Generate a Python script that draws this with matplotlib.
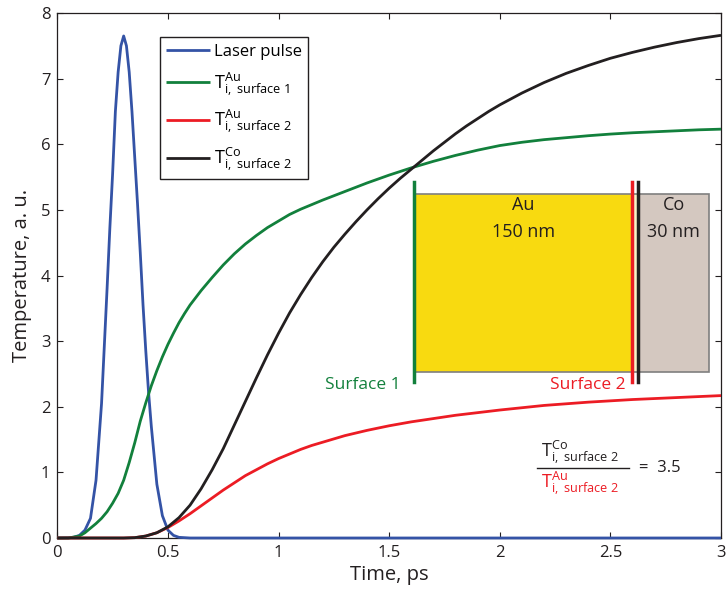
import matplotlib
matplotlib.use("Agg")
import matplotlib.pyplot as plt
from matplotlib.patches import Rectangle

FONT = "Open Sans"
plt.rcParams["font.family"] = [FONT, "DejaVu Sans"]
plt.rcParams["mathtext.fontset"] = "custom"
plt.rcParams["mathtext.rm"] = FONT
plt.rcParams["mathtext.it"] = FONT + ":italic"
plt.rcParams["mathtext.bf"] = FONT + ":bold"

# ---- data -----------------------------------------------------------------
t_pulse = [0, 0.05, 0.075, 0.1, 0.125, 0.15, 0.175, 0.2, 0.225, 0.2375, 0.25,
           0.2625, 0.275, 0.2875, 0.3, 0.3125, 0.325, 0.3375, 0.35, 0.3625,
           0.375, 0.3875, 0.4, 0.4125, 0.425, 0.45, 0.475, 0.5, 0.525, 0.55,
           0.6, 3.0]
T_pulse = [0, 0.003, 0.012, 0.04, 0.12, 0.3, 0.88, 2.05, 3.8, 4.72, 5.55,
           6.5, 7.1, 7.5, 7.65, 7.5, 7.1, 6.5, 5.8, 5.1,
           4.35, 3.55, 2.85, 2.22, 1.7, 0.82, 0.34, 0.12, 0.04, 0.01,
           0, 0]

t_au1 = [0, 0.05, 0.1, 0.125, 0.15, 0.175, 0.2, 0.225, 0.25, 0.275, 0.3, 0.325,
         0.35, 0.375, 0.4, 0.425, 0.45, 0.475, 0.5, 0.525, 0.55, 0.575, 0.6,
         0.65, 0.7, 0.75, 0.8, 0.85, 0.9, 0.95, 1.0, 1.05, 1.1, 1.15, 1.2, 1.3,
         1.4, 1.5, 1.6, 1.7, 1.8, 1.9, 2.0, 2.1, 2.2, 2.3, 2.4, 2.5, 2.6, 2.7,
         2.8, 2.9, 3.0]
T_au1 = [0, 0.0, 0.03, 0.08, 0.15, 0.22, 0.3, 0.4, 0.53, 0.68, 0.88, 1.15,
         1.45, 1.78, 2.06, 2.32, 2.55, 2.76, 2.95, 3.12, 3.28, 3.42, 3.55,
         3.77, 3.97, 4.16, 4.33, 4.48, 4.61, 4.73, 4.83, 4.93, 5.01, 5.08, 5.15, 5.28,
         5.41, 5.53, 5.64, 5.74, 5.83, 5.91, 5.98, 6.03, 6.07, 6.1, 6.13, 6.155, 6.175, 6.19,
         6.205, 6.22, 6.23]

t_au2 = [0, 0.3, 0.35, 0.4, 0.45, 0.5, 0.55, 0.6, 0.65, 0.7, 0.75, 0.8, 0.85,
         0.9, 0.95, 1.0, 1.05, 1.1, 1.15, 1.2, 1.3, 1.4, 1.5, 1.6, 1.7, 1.8,
         1.9, 2.0, 2.2, 2.4, 2.6, 2.8, 3.0]
T_au2 = [0, 0, 0.005, 0.03, 0.08, 0.16, 0.26, 0.37, 0.49, 0.61, 0.73, 0.84, 0.95,
         1.04, 1.13, 1.21, 1.28, 1.35, 1.41, 1.46, 1.56, 1.64, 1.71, 1.77, 1.82, 1.87,
         1.91, 1.95, 2.02, 2.07, 2.11, 2.14, 2.17]

t_co2 = [0, 0.3, 0.35, 0.4, 0.45, 0.5, 0.55, 0.6, 0.65, 0.7, 0.75, 0.8, 0.85,
         0.9, 0.95, 1.0, 1.05, 1.1, 1.15, 1.2, 1.25, 1.3, 1.35, 1.4, 1.45, 1.5,
         1.55, 1.6, 1.65, 1.7, 1.75, 1.8, 1.85, 1.9, 1.95, 2.0, 2.1, 2.2, 2.3,
         2.4, 2.5, 2.6, 2.7, 2.8, 2.9, 3.0]
T_co2 = [0, 0, 0.005, 0.03, 0.08, 0.17, 0.31, 0.5, 0.75, 1.04, 1.36, 1.72, 2.08,
         2.44, 2.79, 3.12, 3.43, 3.71, 3.97, 4.21, 4.43, 4.63, 4.82, 5.0, 5.17, 5.33,
         5.48, 5.62, 5.76, 5.9, 6.03, 6.16, 6.28, 6.39, 6.5, 6.6, 6.78, 6.94, 7.08,
         7.2, 7.31, 7.4, 7.48, 7.55, 7.61, 7.66]

ratio = 3.5
x_ticks = [0, 0.5, 1, 1.5, 2, 2.5, 3]
x_tick_labels = ["0", "0.5", "1", "1.5", "2", "2.5", "3"]
y_ticks = [0, 1, 2, 3, 4, 5, 6, 7, 8]

labels = ["Laser pulse",
          r"$\mathregular{T^{Au}_{i,\ surface\ 1}}$",
          r"$\mathregular{T^{Au}_{i,\ surface\ 2}}$",
          r"$\mathregular{T^{Co}_{i,\ surface\ 2}}$"]

BLUE = "#3453a6"
GREEN = "#12803c"
RED = "#ec1c24"
DARK = "#231f20"
GOLD = "#f8da10"
TAUPE = "#d4c8c0"

# ---- figure -----------------------------------------------------------------
fig = plt.figure(figsize=(7.26, 5.92), dpi=100)
ax = fig.add_axes([57.3 / 726, 1 - 538 / 592, (721 - 57.3) / 726, (538 - 13) / 592])

kw = dict(lw=2.0, clip_on=False, zorder=3, solid_capstyle="butt",
          solid_joinstyle="round")
ax.plot(t_pulse, T_pulse, color=BLUE, label=labels[0], **kw)
ax.plot(t_au1, T_au1, color=GREEN, label=labels[1], **kw)
ax.plot(t_au2, T_au2, color=RED, label=labels[2], **kw)
ax.plot(t_co2, T_co2, color=DARK, label=labels[3], **kw)

ax.set_xlim(0, 3)
ax.set_ylim(0, 8)
ax.set_xticks(x_ticks)
ax.set_xticklabels(x_tick_labels)
ax.set_yticks(y_ticks)
ax.tick_params(direction="in", top=True, right=True, length=4, width=0.8,
               labelsize=12, colors=DARK, pad=5)
for s in ax.spines.values():
    s.set_linewidth(0.9)
    s.set_color(DARK)

ax.set_xlabel("Time, ps", fontsize=14.5, color=DARK, labelpad=3)
ax.set_ylabel("Temperature, a. u.", fontsize=14.5, color=DARK, labelpad=6)

leg = ax.legend(loc="upper left", bbox_to_anchor=(0.1547, 0.954), fontsize=13,
                handlelength=2.4, handletextpad=0.25, labelspacing=0.55,
                borderpad=0.35, borderaxespad=0, fancybox=False,
                framealpha=1, edgecolor=DARK)
leg.get_frame().set_linewidth(1.0)
leg.get_texts()[0].set_fontsize(12)
for line in leg.get_lines():
    line.set_linewidth(2.0)

# ---- sample sketch: Au / Co bilayer ------------------------------------------
x_s1, x_s2, x_co, x_end = 1.614, 2.599, 2.626, 2.946
y_bot, y_top = 2.535, 5.244
y_lo, y_hi = 2.38, 5.43

ax.add_patch(Rectangle((x_s1, y_bot), x_s2 - x_s1, y_top - y_bot,
                       facecolor=GOLD, edgecolor="none", zorder=4))
ax.add_patch(Rectangle((x_s2, y_bot), x_co - x_s2, y_top - y_bot,
                       facecolor="#fbf3c8", edgecolor="none", zorder=4))
ax.add_patch(Rectangle((x_co, y_bot), x_end - x_co, y_top - y_bot,
                       facecolor=TAUPE, edgecolor="none", zorder=4))
ax.add_patch(Rectangle((x_s1, y_bot), x_end - x_s1, y_top - y_bot,
                       facecolor="none", edgecolor="#7f7f7f", lw=1.2, zorder=5))
ax.plot([x_s1, x_s1], [y_lo, y_hi], color=GREEN, lw=2.5, zorder=6)
ax.plot([x_s2, x_s2], [y_lo, y_hi], color=RED, lw=2.5, zorder=6)
ax.plot([x_co, x_co], [y_lo, y_hi], color=DARK, lw=2.5, zorder=6)

ax.text((x_s1 + x_s2) / 2, 5.08, "Au", ha="center", va="center",
        fontsize=13, color=DARK, zorder=7)
ax.text((x_s1 + x_s2) / 2, 4.67, "150 nm", ha="center", va="center",
        fontsize=13, color=DARK, zorder=7)
ax.text((x_co + x_end) / 2, 5.08, "Co", ha="center", va="center",
        fontsize=13, color=DARK, zorder=7)
ax.text((x_co + x_end) / 2, 4.67, "30 nm", ha="center", va="center",
        fontsize=13, color=DARK, zorder=7)
ax.text(1.553, 2.33, "Surface 1", ha="right", va="center",
        fontsize=12.5, color=GREEN, zorder=7)
ax.text(2.57, 2.33, "Surface 2", ha="right", va="center",
        fontsize=12.5, color=RED, zorder=7)

# ---- ratio annotation ---------------------------------------------------------
y_frac = 1.072
ax.plot([2.169, 2.584], [y_frac, y_frac], color=DARK, lw=1.0, zorder=6)
ax.text(2.185, y_frac + 0.03, labels[3], ha="left", va="bottom",
        fontsize=13, color=DARK, zorder=7)
ax.text(2.185, y_frac - 0.03, labels[2], ha="left", va="top",
        fontsize=13, color=RED, zorder=7)
ax.text(2.628, y_frac, "=  {:.1f}".format(ratio), ha="left", va="center",
        fontsize=12, color=DARK, zorder=7)

fig.savefig("out.png", dpi=100)
